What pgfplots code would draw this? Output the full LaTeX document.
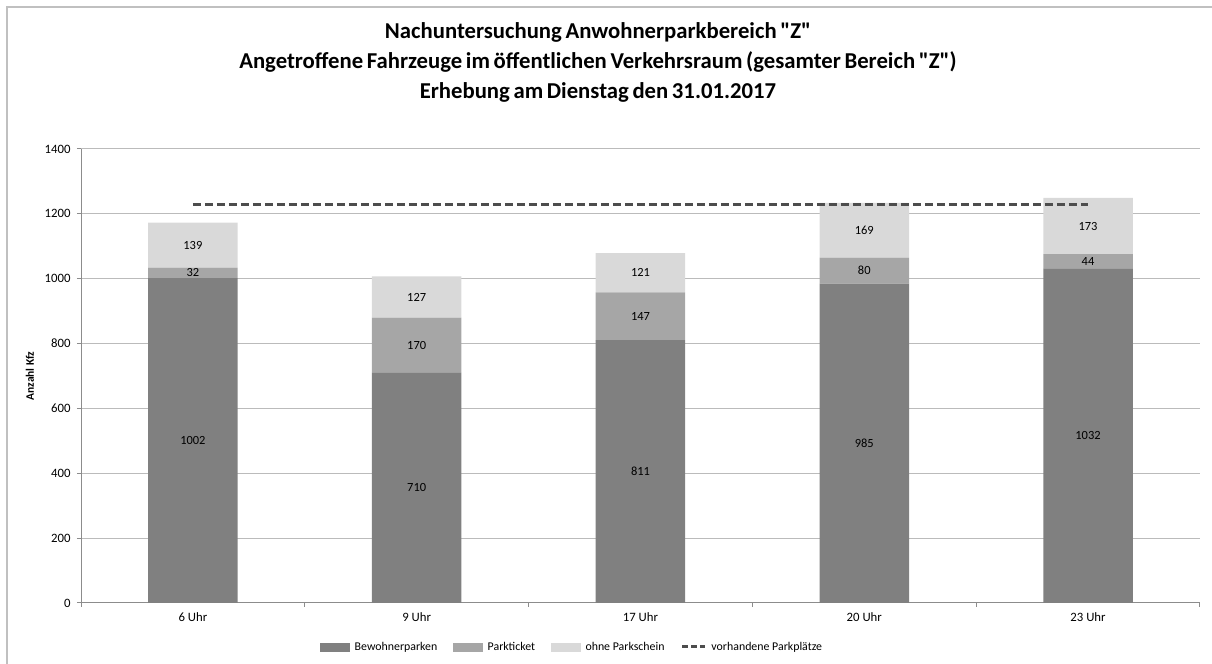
\documentclass[border=0pt]{standalone}
\usepackage{pgfplots}
\pgfplotsset{compat=1.18}
\usepackage{fontspec}
\setmainfont{Carlito}[Ligatures=TeXOff]
\definecolor{cA}{HTML}{808080}
\definecolor{cB}{HTML}{A6A6A6}
\definecolor{cC}{HTML}{D9D9D9}
\definecolor{cL}{HTML}{4D4D4D}
\definecolor{cG}{HTML}{BBBBBB}
\definecolor{cX}{HTML}{8C8C8C}
\definecolor{cF}{HTML}{C0C0C0}
\newcommand\ttlfont{\bfseries\fontsize{22.8}{24}\selectfont\spaceskip=0.16em plus 0.05em\relax}

\pgfplotstableread{
x bew park ohne
0 1002 32 139
1 710 170 127
2 811 147 121
3 985 80 169
4 1032 44 173
}\datatable

\pgfplotsset{
  common/.style={
    at={(81bp,61bp)}, anchor=south west,
    scale only axis, width=1119bp, height=454bp,
    xmin=-0.5, xmax=4.5, ymin=0, ymax=1400,
  }
}

\begin{document}
\begin{tikzpicture}
\useasboundingbox (0,0) rectangle (1212bp,664bp);
\draw[cF, line width=1.5bp] (7bp,0bp) -- (7bp,657bp) -- (1212bp,657bp);

\node[font=\ttlfont] at (598bp,632bp) {Nachuntersuchung Anwohnerparkbereich "Z"};
\node[font=\ttlfont] at (598bp,602bp) {Angetroffene Fahrzeuge im öffentlichen Verkehrsraum (gesamter Bereich "Z")};
\node[font=\ttlfont] at (598bp,572bp) {Erhebung am Dienstag den 31.01.2017};

\node[rotate=90, font=\bfseries\fontsize{11.5}{13}\selectfont] at (30bp,288bp) {Anzahl Kfz};

\begin{axis}[common,
  ybar stacked, bar width=0.40,
  axis x line=bottom, axis y line=left,
  axis line style={-, draw=cX, line width=1bp},
  ytick={0,200,...,1400},
  ymajorgrids, grid style={cG, line width=1bp},
  xtick={0,1,2,3,4},
  xticklabels={6 Uhr,9 Uhr,17 Uhr,20 Uhr,23 Uhr},
  major x tick style={draw=none},
  minor xtick={-0.5,0.5,1.5,2.5,3.5,4.5},
  minor x tick style={draw=cX, line width=1bp},
  minor tick length=4bp,
  major tick length=4bp,
  major y tick style={draw=cX, line width=1bp},
  tick align=outside,
  /pgf/number format/assume math mode=true,
  /pgf/number format/1000 sep={},
  ticklabel style={font=\fontsize{12.8}{14}\selectfont, text=black},
  xticklabel style={yshift=-2bp},
  yticklabel style={xshift=-3bp},
]
\addplot[fill=cA, draw=none] table[x=x, y=bew] {\datatable};
\addplot[fill=cB, draw=none] table[x=x, y=park] {\datatable};
\addplot[fill=cC, draw=none] table[x=x, y=ohne] {\datatable};
\end{axis}

\begin{axis}[common, hide axis,
  legend columns=4,
  legend style={at={(0.439,-0.0969)}, anchor=center, draw=none, fill=none,
    font=\fontsize{11.9}{14}\selectfont,
    /tikz/every even column/.append style={column sep=14bp},
    /tikz/every odd column/.append style={column sep=3bp},
    inner sep=0pt},
  legend cell align=left,
]
\addlegendimage{legend image code/.code={\fill[cA] (0bp,-4bp) rectangle (29bp,4bp);}}
\addlegendentry{Bewohnerparken}
\addlegendimage{legend image code/.code={\fill[cB] (0bp,-4bp) rectangle (29bp,4bp);}}
\addlegendentry{Parkticket}
\addlegendimage{legend image code/.code={\fill[cC] (0bp,-4bp) rectangle (29bp,4bp);}}
\addlegendentry{ohne Parkschein}
\addplot[cL, line width=2.8bp, dash pattern=on 8bp off 4bp,
  legend image code/.code={\draw[cL, line width=3bp, dash pattern=on 6bp off 3bp] (0bp,0bp) -- (23bp,0bp);}]
  coordinates {(0,1228) (4,1228)};
\addlegendentry{vorhandene Parkplätze}

\addplot[draw=none, mark=none, forget plot, nodes near coords, point meta=explicit symbolic,
  nodes near coords align=center,
  every node near coord/.style={font=\fontsize{12.5}{14}\selectfont, text=black, anchor=center}]
  coordinates {
  (0,501)[1002] (0,1018)[32] (0,1103.5)[139]
  (1,355)[710] (1,795)[170] (1,943.5)[127]
  (2,405.5)[811] (2,884.5)[147] (2,1018.5)[121]
  (3,492.5)[985] (3,1025)[80] (3,1149.5)[169]
  (4,516)[1032] (4,1054)[44] (4,1162.5)[173]
  };
\end{axis}
\end{tikzpicture}
\end{document}
